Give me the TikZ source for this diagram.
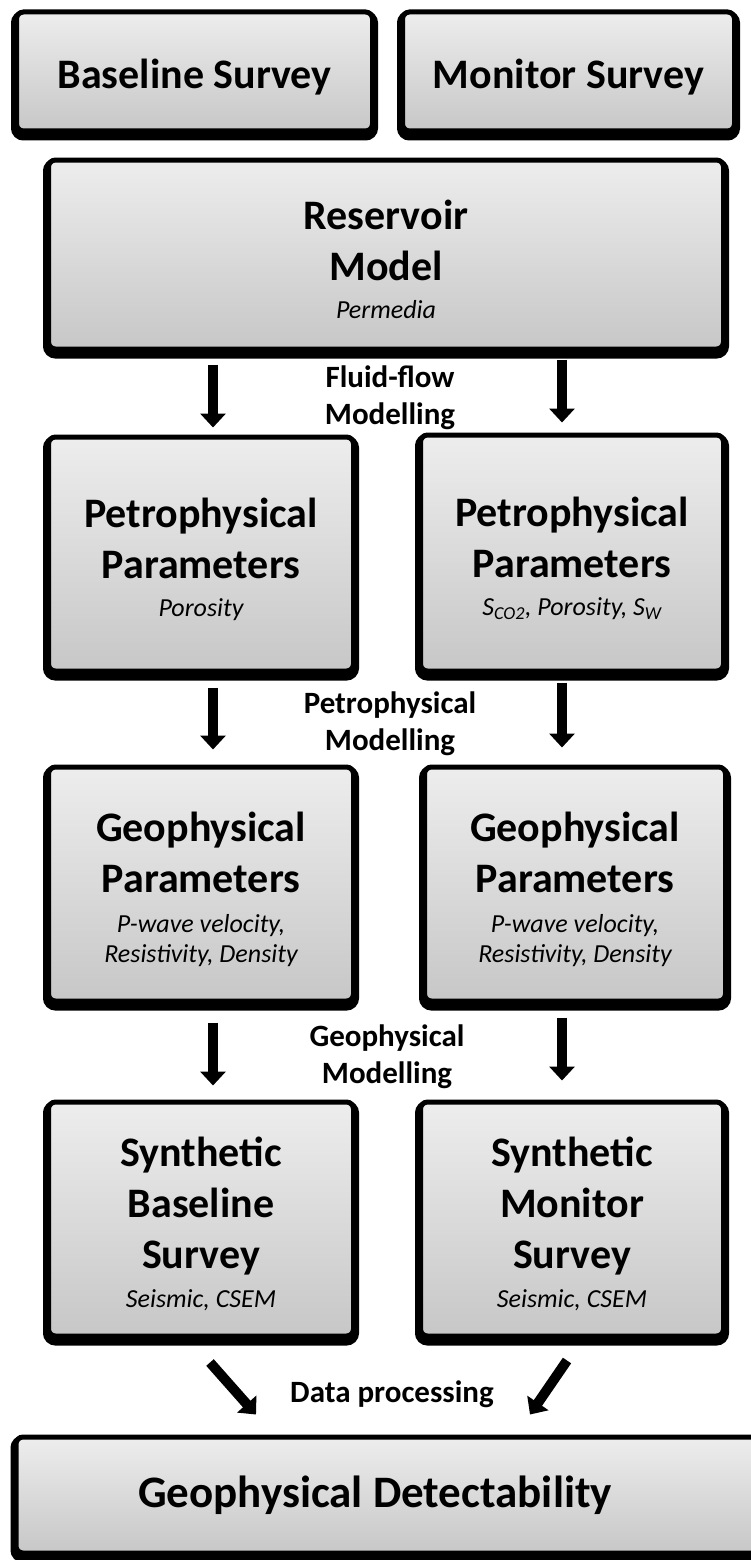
\documentclass[tikz,border=0pt]{standalone}
\usepackage{fontspec}
\setmainfont{Carlito}
\usetikzlibrary{arrows.meta,calc}
\tikzset{
  box/.style={draw=black, line width=5pt, rounded corners=7pt,
    top color=gray!14, bottom color=gray!44,
    preaction={draw=black, line width=11pt, transform canvas={yshift=-4pt}},
    align=center, inner sep=0pt},
  ttl/.style={font=\fontsize{42}{51}\selectfont\bfseries},
  lbl/.style={align=center, font=\fontsize{31}{37}\selectfont\bfseries, inner sep=0pt},
  arr/.style={line width=10pt, -{Triangle[width=25pt,length=14pt]}},
}
\newcommand{\smallt}{\fontsize{26}{32}\selectfont\mdseries\itshape}
\newcommand{\tstrut}{\rule{0pt}{40pt}}
\begin{document}
\begin{tikzpicture}[x=1pt,y=-1pt]
\useasboundingbox (0,0) rectangle (750,1560);
\node[box, ttl, minimum width=356pt, minimum height=119pt] (base) at (194.5,71.5) {\tstrut Baseline Survey};
\node[box, ttl, minimum width=332pt, minimum height=119pt] (mon) at (568.5,71.5) {\tstrut Monitor Survey};
\node[box, ttl, minimum width=675pt, minimum height=189pt] (res) at (386,254.5)
  {\tstrut Reservoir\\Model\\[-13pt]\smallt Permedia};
\node[box, ttl, minimum width=305pt, minimum height=234pt] (petL) at (201,554)
  {\tstrut Petrophysical\\Parameters\\[-13pt]\smallt Porosity};
\node[box, ttl, minimum width=303pt, minimum height=236pt] (petR) at (572,553)
  {\tstrut Petrophysical\\Parameters\\[-13pt]\smallt S\textsubscript{CO2}, Porosity, S\textsubscript{W}};
\node[box, ttl, minimum width=305pt, minimum height=234pt] (geoL) at (201,884)
  {\tstrut Geophysical\\Parameters\\[-11pt]\smallt P-wave velocity,\\[-21pt]\smallt Resistivity, Density};
\node[box, ttl, minimum width=301pt, minimum height=234pt] (geoR) at (575,884)
  {\tstrut Geophysical\\Parameters\\[-11pt]\smallt P-wave velocity,\\[-21pt]\smallt Resistivity, Density};
\node[box, ttl, minimum width=305pt, minimum height=234pt] (synL) at (201,1219)
  {\tstrut Synthetic\\Baseline\\Survey\\[-12pt]\smallt Seismic, CSEM};
\node[box, ttl, minimum width=303pt, minimum height=234pt] (synR) at (572,1219)
  {\tstrut Synthetic\\Monitor\\Survey\\[-12pt]\smallt Seismic, CSEM};
\node[box, minimum width=754pt, minimum height=116pt, font=\fontsize{45}{54}\selectfont\bfseries] (det) at (393,1495)
  {\raisebox{-5pt}{Geophysical Detectability}\hspace*{36pt}};

\node[lbl] (l1) at (390,398) {Fluid-flow\\Modelling};
\node[lbl] (l2) at (390,724) {Petrophysical\\Modelling};
\node[lbl] (l3) at (387,1057) {Geophysical\\Modelling};
\node[lbl] (l4) at (392,1394) {Data processing};

\draw[arr] ($(res.south -| petL.north)+(12,13)$) -- ($(petL.north)+(12,-7)$);
\draw[arr] ($(res.south -| petR.north)+(-10,8)$) -- ($(petR.north)+(-10,-10)$);
\draw[arr] ($(petL.south)+(12,14)$) -- ($(geoL.north)+(12,-15)$);
\draw[arr] ($(petR.south)+(-10,9)$) -- ($(geoR.north -| petR.north)+(-10,-17)$);
\draw[arr] ($(geoL.south)+(12,19)$) -- ($(synL.north)+(12,-14)$);
\draw[arr] ($(geoR.south -| synR.north)+(-10,14)$) -- ($(synR.north)+(-10,-19)$);
\draw[arr] ($(synL.south)+(9,24)$) -- ($(det.north -| synL.north)+(55,-20)$);
\draw[arr] ($(synR.south)+(-5,22)$) -- ($(det.north -| synR.north)+(-42,-20)$);
\end{tikzpicture}
\end{document}
